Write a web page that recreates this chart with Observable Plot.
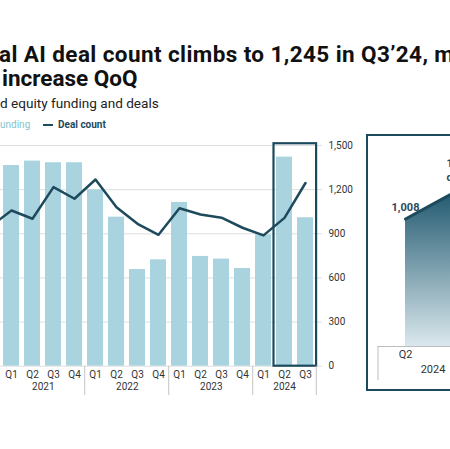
<!DOCTYPE html>
<html><head><meta charset="utf-8">
<script src="https://cdn.jsdelivr.net/npm/d3@7"></script>
<script src="https://cdn.jsdelivr.net/npm/@observablehq/plot@0.6"></script>
<style>
html,body{margin:0;padding:0;background:#fff;}
#page{position:relative;width:450px;height:449px;overflow:hidden;font-family:Roboto, sans-serif;background:#fff;}
.t{position:absolute;white-space:nowrap;line-height:1;}
#main{position:absolute;left:0;top:135px;width:450px;}
#inset{position:absolute;left:366px;top:134px;width:130px;}
#insetBox{position:absolute;left:366px;top:134px;width:110px;height:257px;border:2.5px solid #1c4a5d;box-sizing:border-box;}
</style></head><body><div id="page">
<div class="t" style="left:-1px;top:42.5px;font-size:22.5px;letter-spacing:0.4px;font-weight:700;color:#111;">al AI deal count climbs to 1,245 in Q3’24, m</div>
<div class="t" style="left:2px;top:66.5px;font-size:22.5px;font-weight:700;color:#111;">increase QoQ</div>
<div class="t" style="left:0px;top:96.5px;font-size:13.6px;color:#222;">d equity funding and deals</div>
<div class="t" style="left:0px;top:120px;font-size:10px;color:#86c2ce;">unding</div>
<div style="position:absolute;left:43px;top:124px;width:10px;height:2px;background:#1d4a5c;"></div>
<div class="t" style="left:58px;top:120px;font-size:10px;font-weight:700;color:#1d4a5c;">Deal count</div>
<div id="main"></div>
<div id="inset"></div>
<div id="insetBox"></div>
</div>
<script>
const quarters = ["Q4 2020","Q1 2021","Q2 2021","Q3 2021","Q4 2021","Q1 2022","Q2 2022","Q3 2022","Q4 2022","Q1 2023","Q2 2023","Q3 2023","Q4 2023","Q1 2024","Q2 2024","Q3 2024"];
const fundingBars = [null,1364,1394,1383,1383,1199,1013,657,723,1113,746,728,664,893,1421,1009];
const dealCount = [950,1058,1002,1217,1138,1269,1081,968,893,1074,1031,1009,941,889,1008,1245];
const years = ["2021","2022","2023","2024"];
const yearMid = ["Q2 2021","Q2 2022","Q2 2023"];
const yearStarts = ["Q1 2022","Q1 2023","Q1 2024"];
const rightTicks = [0,300,600,900,1200,1500];
const highlight = ["Q2 2024"];

const insetQuarters = ["Q2","Q3"];
const insetDeals = [1008,1245];
const insetLabels = ["1,008","1,245\ncount"];

const data = quarters.map((q,i)=>({q, funding: fundingBars[i], deals: dealCount[i]}));
const dark = "#1d4a5c";

const main = Plot.plot({
  width: 450, height: 270,
  marginTop: 10, marginBottom: 39.3, marginLeft: 0, marginRight: 128,
  style: {fontFamily: "Roboto, sans-serif", fontSize: "10px", background: "transparent"},
  x: {type: "band", domain: quarters, range: [-25, 320.6], paddingInner: 0.23, paddingOuter: 0.115, axis: null},
  y: {domain: [0, 1500], axis: null},
  marks: [
    Plot.gridY(rightTicks, {stroke: "#dedede", strokeOpacity: 1}),
    Plot.barY(data.filter(d=>d.funding!=null), {x: "q", y: "funding", fill: "#a9d4df"}),
    Plot.barY(highlight, {x: d=>d, y1: 0, y2: 1512, fill: "none", stroke: "#1c4a5d", strokeWidth: 2.2, insetLeft: -2.5, insetRight: -24.1}),
    Plot.lineY(data, {x: "q", y: "deals", stroke: dark, strokeWidth: 2.5}),
    Plot.axisX(quarters.slice(1), {tickSize: 0, tickPadding: 5, tickFormat: d=>d.slice(0,2), fill: "#333", fontSize: 10, label: null}),
    Plot.text(years.slice(0,3), {x: (d,i)=>yearMid[i], dx: 10.8, frameAnchor: "bottom", dy: 24, fill: "#333", fontSize: 10}),
    Plot.text(years.slice(3), {x: ()=>"Q2 2024", frameAnchor: "bottom", dy: 24, fill: "#333", fontSize: 10}),
    Plot.ruleX(yearStarts, {x: d=>d, dx: -10.8, y1: 0, y2: -199, stroke: "#c4c4c4"}),
    Plot.ruleX(["Q3 2024"], {x: d=>d, dx: 10.8, y1: 0, y2: -199, stroke: "#c4c4c4"}),
    Plot.axisY({anchor: "right", ticks: rightTicks, tickSize: 0, tickPadding: 6, tickFormat: d3.format(","), fill: "#333", fontSize: 10, label: null})
  ]
});
document.getElementById("main").appendChild(main);

const insetData = insetQuarters.map((q,i)=>({q, deals: insetDeals[i], label: insetLabels[i]}));
const inset = Plot.plot({
  width: 130, height: 258,
  marginTop: 0, marginBottom: 46, marginLeft: 11.5, marginRight: 0,
  style: {fontFamily: "Roboto, sans-serif", fontSize: "11px", background: "#fff"},
  x: {type: "point", domain: insetQuarters, range: [39, 94], padding: 0, axis: null},
  y: {domain: [0, 1500], range: [212, 22.25], axis: null},
  marks: [
    Plot.areaY(insetData, {x: "q", y: "deals", fill: "url(#insetGrad)"}),
    Plot.lineY(insetData, {x: "q", y: "deals", stroke: dark, strokeWidth: 3}),
    Plot.ruleY([0], {stroke: "#bdbdbd"}),
    Plot.ruleX(["Q2"], {x: d=>d, dx: -27.5, y1: 0, y2: -270, stroke: "#bdbdbd"}),
    Plot.text(insetData, {x: "q", y: "deals", text: "label", lineAnchor: "bottom", dy: -8, lineHeight: 1.25, fontWeight: 700, fontSize: 11, fill: "#2b4a58"}),
    Plot.text(["Q2"], {x: d=>d, frameAnchor: "bottom", dy: 11, fill: "#333", fontSize: 11}),
    Plot.text(["2024"], {x: ()=>"Q2", dx: 27.5, frameAnchor: "bottom", dy: 26, fill: "#333", fontSize: 11})
  ]
});
const defs = d3.select(inset).insert("defs", ":first-child");
const g = defs.append("linearGradient").attr("id", "insetGrad").attr("x1", 0).attr("y1", 0).attr("x2", 0).attr("y2", 1);
g.append("stop").attr("offset", "0%").attr("stop-color", "#1e566d");
g.append("stop").attr("offset", "100%").attr("stop-color", "#dae8ed");
document.getElementById("inset").appendChild(inset);
</script>
</body></html>
